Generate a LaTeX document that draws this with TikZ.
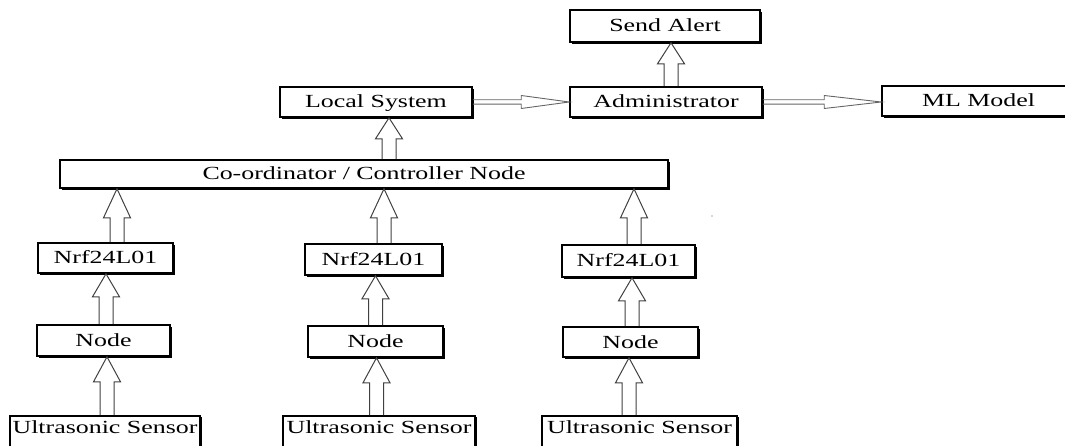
\documentclass[tikz,border=0pt]{standalone}
\usepackage{fontspec}
\setmainfont{Liberation Serif}[FakeStretch=1.4]
\usetikzlibrary{calc,shadows}

\definecolor{shaftgray}{gray}{0.25}
\definecolor{thingray}{gray}{0.4}

\tikzset{
  box/.style={draw=black, fill=white, line width=1.6pt, inner sep=0pt,
    text height=12pt, text depth=0pt,
    font=\fontsize{18.5pt}{20pt}\selectfont,
    drop shadow={shadow xshift=1.6pt, shadow yshift=-1.6pt, fill=black, opacity=1}},
  sensorbox/.style={box, anchor=north, text height=18pt, text depth=22pt},
  % hollow block arrow pointing up
  uparr/.style={draw=shaftgray, line width=1pt, line join=miter,
    to path={let \p1=(\tikztostart), \p2=(\tikztotarget) in
      (\x1-7pt,\y1) -- (\x1-7pt,\y2-#1) -- (\x1-13.5pt,\y2-#1) -- (\x1,\y2)
      -- (\x1+13.5pt,\y2-#1) -- (\x1+7pt,\y2-#1) -- (\x1+7pt,\y1)}},
  uparr/.default=25pt,
  % thin hollow arrow pointing right
  rarr/.style={draw=thingray, line width=0.9pt, line join=miter,
    to path={let \p1=(\tikztostart), \p2=(\tikztotarget) in
      (\x1,\y1+2.2pt) -- (\x2-#1,\y1+2.2pt) -- (\x2-#1,\y1+6.5pt) -- (\x2,\y1)
      -- (\x2-#1,\y1-6.5pt) -- (\x2-#1,\y1-2.2pt) -- (\x1,\y1-2.2pt)}},
}

\begin{document}
\begin{tikzpicture}[x=1pt,y=-1pt]
\useasboundingbox (0,0) rectangle (1065,446);
\clip (0,0) rectangle (1065,446);

% top row
\node[box, minimum width=190pt, minimum height=32pt] (send)  at (665,26)    {Send Alert};
\node[box, minimum width=192pt, minimum height=30pt] (local) at (376,102)   {Local System};
\node[box, minimum width=192pt, minimum height=30pt] (admin) at (666,102)   {Administrator};
\node[box, minimum width=193pt, minimum height=30pt] (ml)    at (978.5,101) {ML Model};

% coordinator
\node[box, minimum width=608pt, minimum height=28pt] (coord) at (364,174) {Co-ordinator / Controller Node};

% radio modules
\node[box, minimum width=135pt, minimum height=30pt] (nrfL) at (105.5,258)   {Nrf24L01};
\node[box, minimum width=137pt, minimum height=31pt] (nrfM) at (373.5,259.5) {Nrf24L01};
\node[box, minimum width=133pt, minimum height=32pt] (nrfR) at (628.5,261)   {Nrf24L01};

% sensor nodes
\node[box, minimum width=133pt, minimum height=31pt] (nodeL) at (103.5,340.5) {Node};
\node[box, minimum width=135pt, minimum height=31pt] (nodeM) at (375.5,341.5) {Node};
\node[box, minimum width=135pt, minimum height=30pt] (nodeR) at (630.5,342)   {Node};

% ultrasonic sensors
\node[sensorbox, minimum width=190pt] (usL) at (105,415)   {Ultrasonic Sensor};
\node[sensorbox, minimum width=192pt] (usM) at (379,415)   {Ultrasonic Sensor};
\node[sensorbox, minimum width=195pt] (usR) at (639.5,415) {Ultrasonic Sensor};

% sensor -> node
\draw[uparr] ([xshift=2pt]usL.north)   to ([xshift=2pt]usL.north |- nodeL.south);
\draw[uparr] ([xshift=-2.5pt]usM.north) to ([xshift=-2.5pt]usM.north |- nodeM.south);
\draw[uparr] ([xshift=-10.5pt]usR.north) to ([xshift=-10.5pt]usR.north |- nodeR.south);

% node -> radio
\draw[uparr=23pt] ([xshift=2.5pt]nodeL.north) to ([xshift=2.5pt]nodeL.north |- nrfL.south);
\draw[uparr=23pt] (nodeM.north) to (nodeM.north |- nrfM.south);
\draw[uparr=23pt] ([xshift=1.5pt]nodeR.north) to ([xshift=1.5pt]nodeR.north |- nrfR.south);

% radio -> coordinator
\draw[uparr=29pt] ([xshift=11.5pt]nrfL.north) to ([xshift=11.5pt]nrfL.north |- coord.south);
\draw[uparr=29pt] ([xshift=10.5pt]nrfM.north) to ([xshift=10.5pt]nrfM.north |- coord.south);
\draw[uparr=29pt] ([xshift=5.5pt]nrfR.north)  to ([xshift=5.5pt]nrfR.north |- coord.south);

% coordinator -> local system, administrator -> alert
\draw[uparr=21pt] ([xshift=13pt]local.south |- coord.north) to ([xshift=13pt]local.south);
\draw[uparr=21pt] ([xshift=5pt]admin.north) to ([xshift=5pt]admin.north |- send.south);

% horizontal flows
\draw[rarr=48pt] (local.east) to (local.east -| admin.west);
\draw[rarr=57pt] (admin.east) to (admin.east -| ml.west);

% stray speck
\fill[gray!60] (712,216) circle (0.8pt);
\end{tikzpicture}
\end{document}
